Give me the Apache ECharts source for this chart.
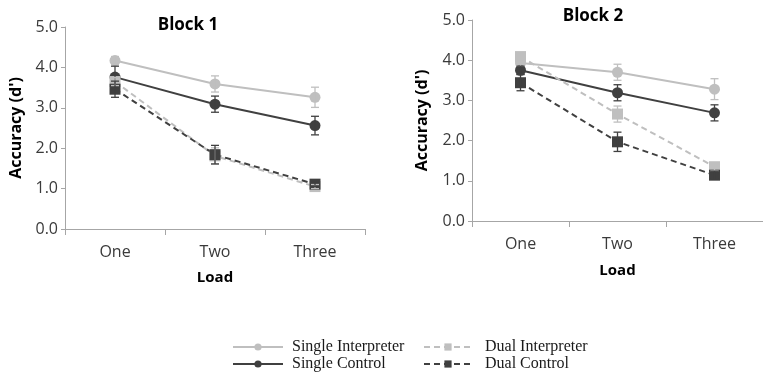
<!DOCTYPE html>
<html>
<head>
<meta charset="utf-8">
<script src="https://cdn.jsdelivr.net/npm/echarts@6/dist/echarts.min.js"></script>
<style>
  html, body { margin: 0; padding: 0; background: #fff; }
  #main { width: 763px; height: 384px; }
</style>
</head>
<body>
<div id="main"></div>
<script>
// data
var categories = ['One', 'Two', 'Three'];
var yTicks = [0, 1, 2, 3, 4, 5];

var b1SingleInterp = [4.17, 3.59, 3.26];
var b1SingleInterpErr = [0.10, 0.20, 0.25];
var b1SingleCtrl = [3.76, 3.09, 2.56];
var b1SingleCtrlErr = [0.27, 0.20, 0.23];
var b1DualInterp = [3.65, 1.81, 1.05];
var b1DualInterpErr = [0.10, 0.20, 0.05];
var b1DualCtrl = [3.46, 1.84, 1.11];
var b1DualCtrlErr = [0.20, 0.23, 0.06];

var b2SingleInterp = [3.93, 3.70, 3.28];
var b2SingleInterpErr = [0.08, 0.20, 0.26];
var b2SingleCtrl = [3.75, 3.19, 2.69];
var b2SingleCtrlErr = [0.10, 0.20, 0.20];
var b2DualInterp = [4.09, 2.66, 1.35];
var b2DualInterpErr = [0.08, 0.20, 0.10];
var b2DualCtrl = [3.44, 1.97, 1.14];
var b2DualCtrlErr = [0.20, 0.24, 0.10];

var light = '#bfbfbf', dark = '#404040', axisGrey = '#a6a6a6';
var labelFont = 'Open Sans';

function errData(vals, errs) {
    return vals.map(function (v, i) { return [i, v - errs[i], v + errs[i]]; });
}

function renderErr(params, api) {
    var x = api.value(0);
    var top = api.coord([x, api.value(2)]);
    var bot = api.coord([x, api.value(1)]);
    var w = 4;
    var st = { stroke: api.visual('color'), lineWidth: 1.3 };
    return {
        type: 'group',
        children: [
            { type: 'line', shape: { x1: top[0], y1: top[1], x2: bot[0], y2: bot[1] }, style: st },
            { type: 'line', shape: { x1: top[0] - w, y1: top[1], x2: top[0] + w, y2: top[1] }, style: st },
            { type: 'line', shape: { x1: bot[0] - w, y1: bot[1], x2: bot[0] + w, y2: bot[1] }, style: st }
        ]
    };
}

function lineSeries(name, data, idx, color, symbol, dashed) {
    return {
        name: name,
        type: 'line',
        xAxisIndex: idx,
        yAxisIndex: idx,
        data: data,
        symbol: symbol,
        symbolSize: 11,
        color: color,
        itemStyle: { color: color },
        lineStyle: { color: color, width: 2, type: dashed ? [6, 4] : 'solid' },
        z: 3
    };
}

function errSeries(vals, errs, idx, color) {
    return {
        type: 'custom',
        xAxisIndex: idx,
        yAxisIndex: idx,
        data: errData(vals, errs),
        renderItem: renderErr,
        itemStyle: { color: color },
        silent: true,
        z: 4
    };
}

function xAxis(idx, gap) {
    return {
        type: 'category',
        gridIndex: idx,
        data: categories,
        boundaryGap: true,
        name: 'Load',
        nameLocation: 'middle',
        nameGap: gap,
        nameTextStyle: { fontFamily: labelFont, fontWeight: 'bold', fontSize: 15, color: '#000' },
        axisLine: { lineStyle: { color: axisGrey, width: 1 } },
        axisTick: { show: true, length: 6, lineStyle: { color: axisGrey } },
        axisLabel: { fontFamily: labelFont, fontSize: 16, color: '#3a3a3a', margin: 15 },
        splitLine: { show: false }
    };
}

function yAxis(idx, gap) {
    return {
        type: 'value',
        gridIndex: idx,
        min: yTicks[0],
        max: yTicks[yTicks.length - 1],
        interval: 1,
        name: "Accuracy (d')",
        nameLocation: 'middle',
        nameGap: gap,
        nameTextStyle: { fontFamily: labelFont, fontWeight: 'bold', fontSize: 16, color: '#000' },
        axisLine: { show: true, lineStyle: { color: axisGrey, width: 1 } },
        axisTick: { show: true, length: 4, lineStyle: { color: axisGrey } },
        axisLabel: {
            fontFamily: labelFont, fontSize: 16, color: '#3a3a3a', margin: 7,
            formatter: function (v) { return v.toFixed(1); }
        },
        splitLine: { show: false }
    };
}

var chart = echarts.init(document.getElementById('main'));
var option = {
    animation: false,
    backgroundColor: '#fff',
    title: [
        { text: 'Block 1', left: 183, top: 12, textAlign: 'center',
          textStyle: { fontFamily: labelFont, fontWeight: 'bold', fontSize: 17, color: '#000' } },
        { text: 'Block 2', left: 588, top: 3, textAlign: 'center',
          textStyle: { fontFamily: labelFont, fontWeight: 'bold', fontSize: 17, color: '#000' } }
    ],
    legend: [
        {
            data: ['Single Interpreter', 'Single Control'],
            orient: 'vertical', left: 227, top: 334,
            itemWidth: 50, itemHeight: 9, itemGap: 1,
            textStyle: { fontFamily: 'Liberation Serif', fontSize: 16, color: '#1a1a1a', padding: [0, 0, 0, 4] },
            selectedMode: false
        },
        {
            data: ['Dual Interpreter', 'Dual Control'],
            orient: 'vertical', left: 418, top: 334,
            itemWidth: 48, itemHeight: 9, itemGap: 1,
            textStyle: { fontFamily: 'Liberation Serif', fontSize: 16, color: '#1a1a1a', padding: [0, 0, 0, 8] },
            selectedMode: false
        }
    ],
    grid: [
        { left: 65, top: 27, width: 300, height: 202 },
        { left: 472, top: 20, width: 300, height: 201 }
    ],
    xAxis: [xAxis(0, 41), xAxis(1, 42)],
    yAxis: [yAxis(0, 41), yAxis(1, 42)],
    series: [
        lineSeries('Single Interpreter', b1SingleInterp, 0, light, 'circle', false),
        lineSeries('Single Control', b1SingleCtrl, 0, dark, 'circle', false),
        lineSeries('Dual Interpreter', b1DualInterp, 0, light, 'rect', true),
        lineSeries('Dual Control', b1DualCtrl, 0, dark, 'rect', true),
        errSeries(b1SingleInterp, b1SingleInterpErr, 0, light),
        errSeries(b1SingleCtrl, b1SingleCtrlErr, 0, dark),
        errSeries(b1DualInterp, b1DualInterpErr, 0, light),
        errSeries(b1DualCtrl, b1DualCtrlErr, 0, dark),

        lineSeries('Single Interpreter', b2SingleInterp, 1, light, 'circle', false),
        lineSeries('Single Control', b2SingleCtrl, 1, dark, 'circle', false),
        lineSeries('Dual Interpreter', b2DualInterp, 1, light, 'rect', true),
        lineSeries('Dual Control', b2DualCtrl, 1, dark, 'rect', true),
        errSeries(b2SingleInterp, b2SingleInterpErr, 1, light),
        errSeries(b2SingleCtrl, b2SingleCtrlErr, 1, dark),
        errSeries(b2DualInterp, b2DualInterpErr, 1, light),
        errSeries(b2DualCtrl, b2DualCtrlErr, 1, dark)
    ]
};
chart.setOption(option);
</script>
</body>
</html>
